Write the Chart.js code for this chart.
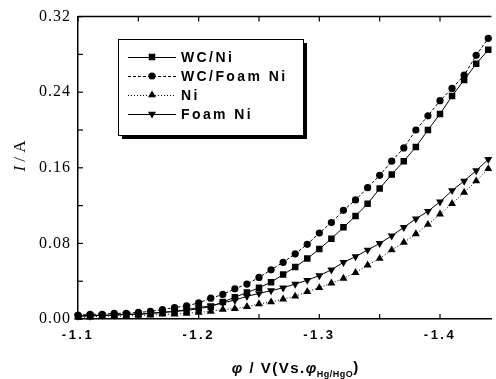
<!DOCTYPE html>
<html><head><meta charset="utf-8">
<script src="https://cdn.jsdelivr.net/npm/chart.js@4/dist/chart.umd.min.js"></script>
<style>html,body{margin:0;padding:0;background:#fff}#wrap{width:496px;height:379px;position:relative}</style>
</head><body><div id="wrap"><canvas id="c" width="496" height="379"></canvas></div>
<script>
// ---- data ----
const potential = [-1.10,-1.11,-1.12,-1.13,-1.14,-1.15,-1.16,-1.17,-1.18,-1.19,
  -1.20,-1.21,-1.22,-1.23,-1.24,-1.25,-1.26,-1.27,-1.28,-1.29,
  -1.30,-1.31,-1.32,-1.33,-1.34,-1.35,-1.36,-1.37,-1.38,-1.39,
  -1.40,-1.41,-1.42,-1.43,-1.44];
const wcNi = [0.003,0.004,0.004,0.004,0.005,0.005,0.006,0.007,0.008,0.009,
  0.011,0.013,0.018,0.023,0.028,0.033,0.039,0.047,0.055,0.064,
  0.074,0.085,0.097,0.109,0.122,0.138,0.153,0.167,0.182,0.200,
  0.217,0.236,0.253,0.270,0.285];
const wcFoamNi = [0.004,0.005,0.005,0.006,0.006,0.007,0.008,0.010,0.012,0.014,
  0.017,0.022,0.026,0.032,0.037,0.044,0.052,0.060,0.069,0.079,
  0.091,0.102,0.115,0.126,0.139,0.152,0.167,0.181,0.200,0.215,
  0.231,0.244,0.258,0.279,0.297];
const ni = [0.002,0.002,0.003,0.003,0.003,0.004,0.004,0.005,0.005,0.006,
  0.007,0.008,0.010,0.011,0.013,0.016,0.018,0.021,0.024,0.029,
  0.033,0.038,0.043,0.049,0.057,0.064,0.073,0.081,0.090,0.100,
  0.111,0.122,0.134,0.146,0.159];
const foamNi = [0.003,0.003,0.004,0.004,0.005,0.005,0.006,0.007,0.008,0.010,
  0.012,0.014,0.017,0.020,0.024,0.027,0.030,0.033,0.037,0.041,
  0.046,0.052,0.060,0.066,0.073,0.080,0.088,0.097,0.106,0.114,
  0.124,0.136,0.146,0.157,0.169];
const seriesNames = ['WC/Ni','WC/Foam Ni','Ni','Foam Ni'];
const xTickLabels = [-1.1,-1.2,-1.3,-1.4];
const xMinorTicks = [-1.15,-1.25,-1.35];
const yTickLabels = [0.00,0.08,0.16,0.24,0.32];
const yMinorTicks = [0.04,0.12,0.20,0.28];

const pts = arr => potential.map((x,i)=>({x:x, y:arr[i]}));

const styles = [
  {dash:[], pointStyle:'rect', radius:4.6, rotation:0},
  {dash:[3,2], pointStyle:'circle', radius:3.6, rotation:0},
  {dash:[1,2], pointStyle:'triangle', radius:4.6, rotation:0},
  {dash:[], pointStyle:'triangle', radius:4.6, rotation:180}
];
const seriesData = [wcNi, wcFoamNi, ni, foamNi];

const datasets = seriesData.map((arr,i)=>({
  label: seriesNames[i],
  data: pts(arr),
  borderColor:'#000',
  backgroundColor:'#000',
  borderWidth:1,
  borderDash: styles[i].dash,
  pointStyle: styles[i].pointStyle,
  pointRotation: styles[i].rotation,
  pointRadius: styles[i].radius,
  pointBorderWidth: 0,
  pointBackgroundColor:'#000',
  tension:0,
  clip:6
}));

function drawMarker(ctx, style, r, rot, x, y){
  ctx.save();
  ctx.fillStyle='#000';
  ctx.setLineDash([]);
  ctx.beginPath();
  if(style==='rect'){
    const s = Math.SQRT1_2*r;
    ctx.rect(x-s,y-s,2*s,2*s);
  } else if(style==='circle'){
    ctx.arc(x,y,r,0,Math.PI*2);
  } else {
    const sgn = rot===180 ? -1 : 1;
    ctx.moveTo(x, y - sgn*r);
    ctx.lineTo(x + r*Math.sin(Math.PI/3), y + sgn*r*0.5);
    ctx.lineTo(x - r*Math.sin(Math.PI/3), y + sgn*r*0.5);
    ctx.closePath();
  }
  ctx.fill();
  ctx.restore();
}

const framePlugin = {
  id:'frame',
  afterUpdate(chart){
    const s = chart.scales.x;
    if(s && !s._lsPatched){
      const orig = s.drawLabels.bind(s);
      s.drawLabels = function(area){
        const ctx=this.ctx; const prev=ctx.letterSpacing;
        ctx.letterSpacing='2.5px'; orig(area); ctx.letterSpacing=prev||'0px';
      };
      s._lsPatched = true;
    }
    const y = chart.scales.y;
    if(y && !y._lsPatched){
      const orig = y.drawLabels.bind(y);
      y.drawLabels = function(area){
        const ctx=this.ctx; const prev=ctx.letterSpacing;
        ctx.letterSpacing='1px'; orig(area); ctx.letterSpacing=prev||'0px';
      };
      y._lsPatched = true;
    }
  },
  afterDraw(chart){
    const ctx = chart.ctx, a = chart.chartArea, xs = chart.scales.x, ys = chart.scales.y;
    ctx.save();
    ctx.strokeStyle='#000';
    ctx.setLineDash([]);
    // top frame line
    ctx.lineWidth=1.5;
    ctx.beginPath(); ctx.moveTo(a.left, a.top); ctx.lineTo(a.right, a.top); ctx.stroke();
    // inward ticks
    ctx.lineWidth=1.2;
    const tl = 5;
    xTickLabels.concat(xMinorTicks).forEach(v=>{
      const px = xs.getPixelForValue(v);
      ctx.beginPath(); ctx.moveTo(px,a.bottom); ctx.lineTo(px,a.bottom-tl); ctx.stroke();
      ctx.beginPath(); ctx.moveTo(px,a.top); ctx.lineTo(px,a.top+tl); ctx.stroke();
    });
    yTickLabels.concat(yMinorTicks).forEach(v=>{
      const py = ys.getPixelForValue(v);
      ctx.beginPath(); ctx.moveTo(a.left,py); ctx.lineTo(a.left+tl,py); ctx.stroke();
    });

    // legend
    const L={left:118, top:39, right:303, bottom:135};
    ctx.fillStyle='#000';
    ctx.fillRect(L.left+4, L.top+4, L.right-L.left, L.bottom-L.top);
    ctx.fillStyle='#fff';
    ctx.fillRect(L.left, L.top, L.right-L.left, L.bottom-L.top);
    ctx.lineWidth=1;
    ctx.strokeRect(L.left+0.5, L.top+0.5, L.right-L.left, L.bottom-L.top);
    const rows=[57,76,95,114];
    chart.data.datasets.forEach((ds,i)=>{
      const yy = rows[i];
      ctx.lineWidth=1;
      ctx.setLineDash(styles[i].dash);
      ctx.beginPath(); ctx.moveTo(128,yy+0.5); ctx.lineTo(176,yy+0.5); ctx.stroke();
      ctx.setLineDash([]);
      drawMarker(ctx, styles[i].pointStyle, styles[i].radius, styles[i].rotation, 152, yy);
      ctx.fillStyle='#000';
      ctx.font='bold 14px "Liberation Sans", Arial, sans-serif';
      ctx.letterSpacing='2.4px';
      ctx.textBaseline='middle';
      ctx.textAlign='left';
      ctx.fillText(ds.label, 181, yy+1);
      ctx.letterSpacing='0px';
    });

    // x-axis title: φ / V(Vs.φ_Hg/HgO)
    const big='bold 15px "Liberation Sans", Arial, sans-serif';
    const bigI='italic bold 15px "Liberation Sans", Arial, sans-serif';
    const small='bold 9px "Liberation Sans", Arial, sans-serif';
    const parts=[
      {t:'\u03C6', f:bigI, dy:0, ls:'1.5px'},
      {t:' / V(Vs.', f:big, dy:0, ls:'1.5px'},
      {t:'\u03C6', f:bigI, dy:0, ls:'0.5px'},
      {t:'Hg/HgO', f:small, dy:4, ls:'0.5px'},
      {t:')', f:big, dy:-1, ls:'0px'}
    ];
    let total=0;
    parts.forEach(p=>{ctx.font=p.f; ctx.letterSpacing=p.ls; p.w=ctx.measureText(p.t).width; total+=p.w;});
    let x0 = 295 - total/2;
    const base = 373;
    ctx.textAlign='left'; ctx.textBaseline='alphabetic'; ctx.fillStyle='#000';
    parts.forEach(p=>{ctx.font=p.f; ctx.letterSpacing=p.ls; ctx.fillText(p.t, x0, base+p.dy); x0+=p.w;});
    ctx.letterSpacing='0px';

    // y-axis title: I / A (rotated)
    ctx.save();
    ctx.translate(25,156);
    ctx.rotate(-Math.PI/2);
    const yparts=[
      {t:'I', f:'italic 17px "Liberation Serif", "Times New Roman", serif'},
      {t:' / A', f:'17px "Liberation Serif", "Times New Roman", serif'}
    ];
    let tw=0;
    yparts.forEach(p=>{ctx.font=p.f; p.w=ctx.measureText(p.t).width; tw+=p.w;});
    let xx=-tw/2;
    yparts.forEach(p=>{ctx.font=p.f; ctx.fillText(p.t, xx, 0); xx+=p.w;});
    ctx.restore();

    ctx.restore();
  }
};

new Chart(document.getElementById('c'), {
  type:'line',
  data:{datasets},
  options:{
    responsive:false,
    devicePixelRatio:1,
    animation:false,
    layout:{padding:{top:15,right:0,left:0,bottom:0}},
    plugins:{legend:{display:false}, tooltip:{enabled:false}},
    scales:{
      x:{
        type:'linear', reverse:true, min:-1.4426, max:-1.1,
        grid:{display:false, drawTicks:false},
        border:{display:true, color:'#000', width:1.5},
        ticks:{color:'#000', padding:9, maxRotation:0, autoSkip:false,
          font:{family:'"Liberation Sans", Arial, sans-serif', weight:'bold', size:13},
          callback:v=>Number(v).toFixed(1)},
        afterBuildTicks:s=>{s.ticks = xTickLabels.map(v=>({value:v}));},
        afterFit:s=>{s.height=60;}
      },
      y:{
        min:0, max:0.32,
        grid:{display:false, drawTicks:false},
        border:{display:true, color:'#000', width:1.5},
        ticks:{color:'#000', padding:7,
          font:{family:'"Liberation Serif", "Times New Roman", serif', size:16},
          callback:v=>Number(v).toFixed(2)},
        afterBuildTicks:s=>{s.ticks = yTickLabels.map(v=>({value:v}));},
        afterFit:s=>{s.width=78;}
      }
    }
  },
  plugins:[framePlugin]
});
</script>
</body></html>
